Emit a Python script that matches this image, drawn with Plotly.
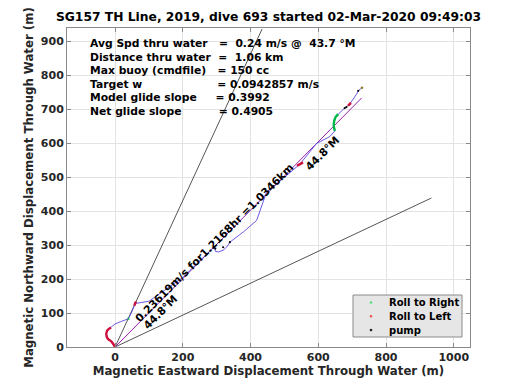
import plotly.graph_objects as go

# ---------------- data ----------------
title_text = "SG157 TH Line, 2019, dive 693 started 02-Mar-2020 09:49:03"
x_label = "Magnetic Eastward Displacement Through Water (m)"
y_label = "Magnetic Northward Displacement Through Water (m)"

x_ticks = [0, 200, 400, 600, 800, 1000]
y_ticks = [0, 100, 200, 300, 400, 500, 600, 700, 800, 900]

# glider track (m east, m north)
track_x = [0, -10, -22, -26, -22, -12, 0, 20, 39, 50, 59, 100, 200, 285, 293, 296, 305, 319, 330, 339,
           380, 418, 428, 447, 470, 530, 546, 595, 634, 649, 646, 647, 652, 659, 669, 678, 688, 693, 713, 718, 728]
track_y = [0, 15, 25, 39, 50, 57, 68, 76, 83, 105, 128, 135, 205, 288, 296, 282, 280, 285, 295, 309,
           340, 373, 402, 456, 475, 525, 539, 600, 620, 637, 650, 666, 679, 686, 696, 704, 711, 716, 745, 755, 763]

# roll segments
roll_right_x = [[38, 41], [649, 646, 647, 652, 659]]
roll_right_y = [[82, 85], [637, 650, 666, 679, 686]]
roll_left_x = [[0, -10, -22, -26, -22, -12], [57, 59, 62], [537, 546, 555], [688, 693, 697]]
roll_left_y = [[0, 15, 25, 39, 50, 57], [122, 128, 134], [534, 539, 544], [711, 716, 719]]

# pump points
pump_x = [296, 319, 339, 678, 683, 718]
pump_y = [290, 294, 309, 704, 707, 755]
end_x = [729]
end_y = [764]

# heading lines from origin
net_x = [0, 728.3]
net_y = [0, 734.1]
bound_left_x = [0, 434]
bound_left_y = [0, 937]
bound_right_x = [0, 934]
bound_right_y = [0, 439]

info_lines = [
    "Avg Spd thru water   =  0.24 m/s @  43.7 °M",
    "Distance thru water  =  1.06 km",
    "Max buoy (cmdfile)   = 150 cc",
    "Target w" + " " * 20 + "= 0.0942857 m/s",
    "Model glide slope" + " " * 5 + "= 0.3992",
    "Net glide slope" + " " * 10 + "= 0.4905",
]
leg_text = "0.23619m/s for1.2168hr =1.0346km"
heading_text = "44.8°M"

legend_names = ["Roll to Right", "Roll to Left", "pump"]
legend_colors = ["#40e070", "#f04040", "#000000"]

# ---------------- figure ----------------
FONT = "DejaVu Sans"
fig = go.Figure()

fig.add_trace(go.Scatter(x=bound_left_x, y=bound_left_y, mode="lines",
                         line=dict(color="#2a2a2a", width=0.8), showlegend=False, hoverinfo="skip"))
fig.add_trace(go.Scatter(x=bound_right_x, y=bound_right_y, mode="lines",
                         line=dict(color="#2a2a2a", width=0.8), showlegend=False, hoverinfo="skip"))
fig.add_trace(go.Scatter(x=net_x, y=net_y, mode="lines",
                         line=dict(color="#9a1fa8", width=1), showlegend=False, hoverinfo="skip"))
fig.add_trace(go.Scatter(x=track_x, y=track_y, mode="lines",
                         line=dict(color="#5a48e0", width=0.9), showlegend=False, hoverinfo="skip"))

for sx, sy in zip(roll_right_x, roll_right_y):
    fig.add_trace(go.Scatter(x=sx, y=sy, mode="lines", line_shape="spline",
                             line=dict(color="#00b84a", width=2.4), showlegend=False, hoverinfo="skip"))
for sx, sy in zip(roll_left_x, roll_left_y):
    fig.add_trace(go.Scatter(x=sx, y=sy, mode="lines", line_shape="spline",
                             line=dict(color="#d0103c", width=2.4), showlegend=False, hoverinfo="skip"))
fig.add_trace(go.Scatter(x=pump_x, y=pump_y, mode="markers",
                         marker=dict(color="black", size=2.2), showlegend=False, hoverinfo="skip"))
fig.add_trace(go.Scatter(x=end_x, y=end_y, mode="markers",
                         marker=dict(color="#8a7a20", size=2.5), showlegend=False, hoverinfo="skip"))

# page body has an 8px margin: work in window pixels, convert to figure pixels
OFF = 8
W, H = 520 - OFF, 390 - OFF
L, R, T, B = 67, 470, 28, 347  # plot area in window pixels


def px_to_paper(px, py):
    return (px - L) / (R - L), (B - py) / (B - T)


annots = []
shapes = []
y0 = 43.5
for i, line in enumerate(info_lines):
    xp, yp = px_to_paper(88, y0 + i * 13.6)
    annots.append(dict(text=line.replace(" ", "\u00a0"), x=xp, y=yp, xref="paper", yref="paper",
                       xanchor="left", yanchor="middle", showarrow=False,
                       font=dict(family=FONT, size=10.75, color="black", weight="bold")))

annots.append(dict(text=leg_text, x=295, y=308, xref="x", yref="y", textangle=-45,
                   showarrow=False, font=dict(family=FONT, size=10.75, color="black", weight="bold")))
annots.append(dict(text=heading_text, x=133, y=103, xref="x", yref="y", textangle=-45,
                   showarrow=False, font=dict(family=FONT, size=10.75, color="black", weight="bold")))
annots.append(dict(text=heading_text, x=612, y=571, xref="x", yref="y", textangle=-45,
                   showarrow=False, font=dict(family=FONT, size=10.75, color="black", weight="bold")))

# hand-built compact legend box
bx0, by0 = px_to_paper(353, 337)
bx1, by1 = px_to_paper(462, 295)
shapes.append(dict(type="rect", xref="paper", yref="paper", x0=bx0, y0=by0, x1=bx1, y1=by1,
                   fillcolor="#e6e6e6", line=dict(color="#8a8a8a", width=1), layer="above"))
for i, (name, col) in enumerate(zip(legend_names, legend_colors)):
    rowy = 302.5 + i * 13.8
    cx0, cy0 = px_to_paper(370, rowy + 1)
    cx1, cy1 = px_to_paper(372, rowy - 1)
    shapes.append(dict(type="circle", xref="paper", yref="paper", x0=cx0, y0=cy0, x1=cx1, y1=cy1,
                       fillcolor=col, line=dict(color=col, width=0.5), layer="above"))
    tx, ty = px_to_paper(387, rowy)
    annots.append(dict(text=name, x=tx, y=ty, xref="paper", yref="paper", xanchor="left",
                       yanchor="middle", showarrow=False,
                       font=dict(family=FONT, size=10, color="black", weight="bold")))

axis_common = dict(showgrid=True, gridcolor="#e3e3e3", gridwidth=1, zeroline=False,
                   showline=True, linecolor="#8a8a8a", linewidth=1, mirror="ticks",
                   ticks="inside", ticklen=4, tickcolor="#8a8a8a", automargin=False,
                   tickfont=dict(family=FONT, size=11, color="#262626", weight="bold"))

fig.update_layout(
    width=W, height=H,
    margin=dict(l=L - OFF, r=W - (R - OFF), t=T - OFF, b=H - (B - OFF), pad=0),
    paper_bgcolor="white", plot_bgcolor="white",
    showlegend=False,
    title=dict(text=title_text, xref="paper", x=0.5, xanchor="center",
               y=1 - (17 - OFF) / H, yanchor="middle",
               font=dict(family=FONT, size=12.3, color="black", weight="bold"), automargin=False),
    xaxis=dict(range=[-142, 1048], tickvals=x_ticks,
               title=dict(text=x_label, standoff=3,
                          font=dict(family=FONT, size=11.75, color="#262626", weight="bold")),
               **axis_common),
    yaxis=dict(range=[0, 940], tickvals=y_ticks,
               title=dict(text=y_label, standoff=4,
                          font=dict(family=FONT, size=11.75, color="#262626", weight="bold")),
               **axis_common),
    annotations=annots,
    shapes=shapes,
)

fig.write_html("out.html")
